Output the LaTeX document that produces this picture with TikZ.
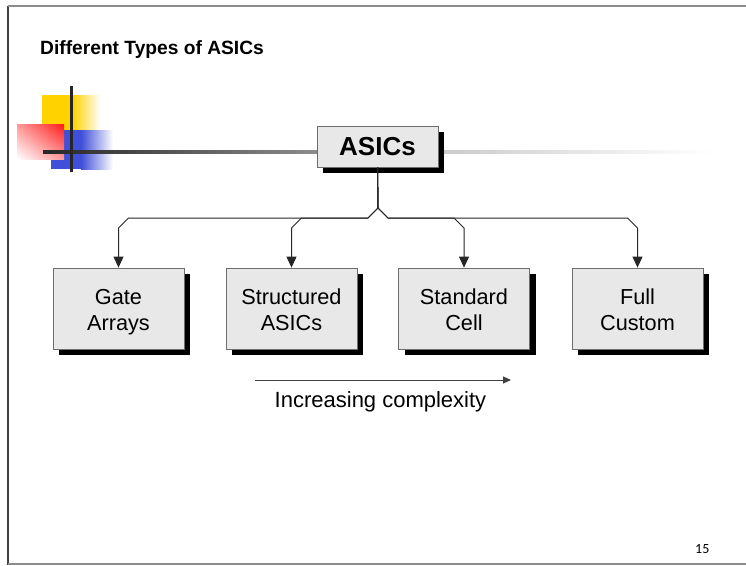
\documentclass[tikz,border=0pt]{standalone}
\usepackage{fontspec}
\setmainfont{Liberation Sans}
\newfontfamily\slidenum{Carlito}
\usetikzlibrary{calc, shadows, shadings, arrows.meta}

\definecolor{boxgray}{HTML}{E8E8E8}
\definecolor{edgegray}{HTML}{6E6E6E}
\definecolor{logoyellow}{HTML}{FFD200}
\definecolor{logoblue}{HTML}{4050D8}
\definecolor{logored}{HTML}{FF1A1A}

\newcommand\typetext[2]{\rule{0pt}{22.6pt}#1\\#2\rule[-5pt]{0pt}{5pt}}

\tikzset{
    typebox/.style={draw=edgegray, line width=0.8pt, fill=boxgray,
        minimum width=131pt, minimum height=81pt, align=center,
        font=\fontsize{21.7}{26}\selectfont,
        drop shadow={shadow xshift=6pt, shadow yshift=-6pt, fill=black, opacity=1}},
    conn/.style={draw=black!85, line width=1pt, -{Triangle[length=11pt,width=10pt]}},
}

\begin{document}
\begin{tikzpicture}[x=1pt, y=-1pt]
    \useasboundingbox (0,0) rectangle (746,565);

    \draw[black!75, line width=2pt] (8,6) -- (8,565);
    \draw[black!45, line width=2pt] (8,6) -- (746,6);
    \draw[black!45, line width=2pt] (8,564) -- (746,564);

    \fill[logoyellow] (42,95) rectangle (73,130);
    \shade[left color=logoyellow, right color=white] (73,95) rectangle (100,130);
    \fill[logoblue] (51,130) rectangle (81,169);
    \shade[left color=logoblue, right color=white] (81,130) rectangle (113,169);
    \shade[upper left=logored!45, upper right=logored, lower left=white, lower right=logored!45] (17,124) rectangle (64,159);

    \shade[left color=black!85, right color=black!45] (43,150.5) rectangle (317,153.5);
    \shade[left color=black!20, right color=white] (444,150.5) rectangle (713,153.5);
    \fill[black!85] (69.5,86) rectangle (72.5,172);

    \node[anchor=base west, inner sep=0pt, font=\bfseries\fontsize{19.2}{23}\selectfont] (title) at (40,54) {Different Types of ASICs};

    \node[typebox, minimum width=121pt, minimum height=41pt, font=\bfseries\fontsize{26}{30}\selectfont] (asics) at (377.5,146.5) {ASICs};

    \node[typebox] (gate) at (118.5,308.5) {\typetext{Gate}{Arrays}};
    \node[typebox] (struct) at (291.5,308.5) {\typetext{Structured}{ASICs}};
    \node[typebox] (std) at (464,308.5) {\typetext{Standard}{Cell}};
    \node[typebox] (full) at (637.5,308.5) {\typetext{Full}{Custom}};

    \coordinate (split) at (378,208);
    \coordinate (rail) at (0,218);

    \foreach \n/\s in {gate/1, struct/1, std/-1, full/-1}
        \draw[conn] (asics.south) -- (split) -- ++(-10*\s,10)
            -- ($(\n.north |- rail)+(10*\s,0)$) -- ($(\n.north |- rail)+(0,10)$) -- (\n.north);

    \coordinate (cstart) at (255,380);
    \coordinate (cend) at (511,380);
    \draw[black!75, line width=1pt, -{Triangle[length=8pt,width=7pt]}] (cstart) -- (cend);
    \node[anchor=base, inner sep=0pt, font=\fontsize{22}{26}\selectfont] (trend) at (380.5,407) {Increasing complexity};

    \node[anchor=base west, inner sep=0pt, font=\slidenum\fontsize{14}{16}\selectfont] (pagenum) at (695,553) {15};
\end{tikzpicture}
\end{document}
